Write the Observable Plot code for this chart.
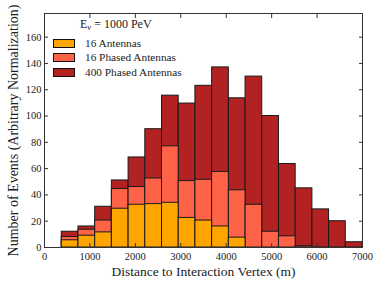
<!DOCTYPE html>
<html>
<head>
<meta charset="utf-8">
<script src="https://cdn.jsdelivr.net/npm/d3@7"></script>
<script src="https://cdn.jsdelivr.net/npm/@observablehq/plot@0.6"></script>
<style>
  body { margin: 0; background: #fff; }
  #wrap { position: relative; width: 382px; height: 286px; font-family: "Liberation Serif", "DejaVu Serif", serif; }
  #legend { position: absolute; left: 53px; top: 17px; font-size: 11.3px; color: #222; line-height: 14.7px; }
  #legend .title { padding-left: 27px; margin-bottom: 1px; font-size: 12px; }
  #legend .row { display: flex; align-items: center; height: 14.7px; }
  #legend .sw { width: 20px; height: 7px; border: 1px solid #111; margin-right: 10px; }
</style>
</head>
<body>
<div id="wrap"></div>
<script>
// Bin edges (m)
const binEdges = [380, 748, 1116, 1483, 1851, 2219, 2587, 2954, 3322, 3690, 4058, 4426, 4793, 5161, 5529, 5897, 6264, 6632, 7000];
// Series counts per bin (overlaid, not stacked)
const series = ["400 Phased Antennas", "16 Phased Antennas", "16 Antennas"];
const phased400 = [12, 16, 31, 51, 68.5, 90, 115.5, 109.5, 123, 137, 113.5, 130, 100, 63.5, 45, 29, 20, 4];
const phased16  = [8, 13.5, 20.5, 44.5, 46, 52.5, 77, 50.5, 51.5, 57.5, 43.5, 32.5, 12, 8.5, 1, 0, 0, 0];
const antennas16 = [5.5, 9, 11.5, 29.5, 32.5, 33, 34, 22.5, 20.5, 16, 7.5, 0, 0, 0, 0, 0, 0, 0];
const colors = ["#B22222", "#FF6347", "#FFA500"];
const xTicks = [0, 1000, 2000, 3000, 4000, 5000, 6000, 7000];
const yTicks = [0, 20, 40, 60, 80, 100, 120, 140, 160];

const valuesBySeries = [phased400, phased16, antennas16];
const rows = [];
valuesBySeries.forEach((vals, s) => {
  vals.forEach((v, i) => {
    if (v > 0) rows.push({series: series[s], x1: binEdges[i], x2: binEdges[i + 1], y: v});
  });
});

const chart = Plot.plot({
  width: 382,
  height: 286,
  marginLeft: 44,
  marginRight: 20,
  marginTop: 13,
  marginBottom: 39,
  style: {fontFamily: '"Liberation Serif", "DejaVu Serif", serif', fontSize: "10px", color: "#222", background: "#fff"},
  x: {domain: [0, 7000]},
  y: {domain: [0, 178]},
  color: {domain: series, range: colors},
  marks: [
    Plot.rect(rows, {x1: "x1", x2: "x2", y1: 0, y2: "y", fill: "series", stroke: "#1a1a1a", strokeWidth: 1}),
    Plot.frame({stroke: "#333", strokeWidth: 1}),
    Plot.axisX({anchor: "bottom", ticks: xTicks, tickFormat: "d", tickSize: 0, tickPadding: 5, label: null, fontSize: 10.5}),
    Plot.axisX({anchor: "bottom", ticks: xTicks, tickSize: -4, text: null, label: null, stroke: "#333"}),
    Plot.axisX({anchor: "top", ticks: xTicks, tickSize: -4, text: null, label: null, stroke: "#333"}),
    Plot.axisY({anchor: "left", ticks: yTicks, tickFormat: "d", tickSize: 0, tickPadding: 3, label: null, fontSize: 10.5}),
    Plot.axisY({anchor: "left", ticks: yTicks, tickSize: -4, text: null, label: null, stroke: "#333"}),
    Plot.axisY({anchor: "right", ticks: yTicks, tickSize: -4, text: null, label: null, stroke: "#333"}),
    Plot.text(["Distance to Interaction Vertex (m)"], {frameAnchor: "bottom", dy: 28, fontSize: 13.5, fill: "#222"}),
    Plot.text(["Number of Events (Arbitrary Normalization)"], {frameAnchor: "left", textAnchor: "middle", dx: -31, rotate: -90, fontSize: 14, fill: "#222"})
  ]
});

const wrap = document.getElementById("wrap");
wrap.appendChild(chart);

const legend = document.createElement("div");
legend.id = "legend";
const title = document.createElement("div");
title.className = "title";
title.innerHTML = "E<sub style='font-size:8.5px;vertical-align:-2px;font-style:italic'>ν</sub> = 1000 PeV";
legend.appendChild(title);
[2, 1, 0].forEach(s => {
  const r = document.createElement("div");
  r.className = "row";
  const sw = document.createElement("span");
  sw.className = "sw";
  sw.style.background = colors[s];
  const t = document.createElement("span");
  t.textContent = series[s];
  r.appendChild(sw);
  r.appendChild(t);
  legend.appendChild(r);
});
wrap.appendChild(legend);
</script>
</body>
</html>
